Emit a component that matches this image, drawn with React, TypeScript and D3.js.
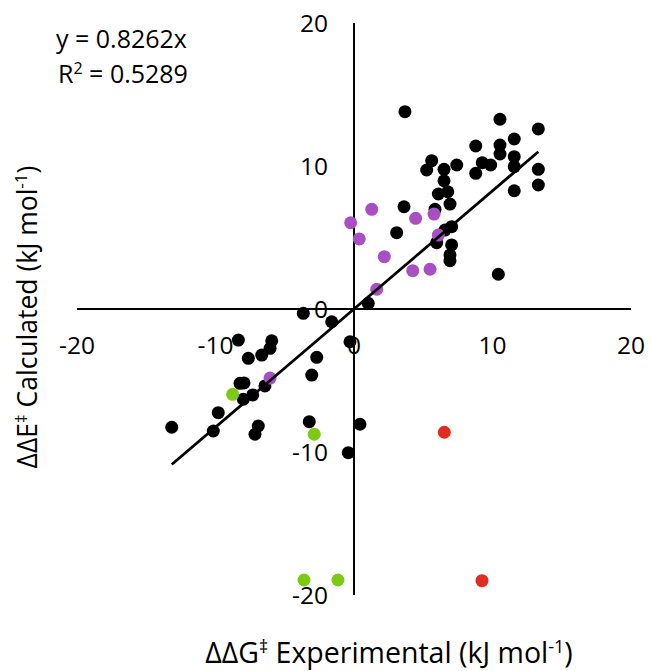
import * as d3 from "d3";
import { useEffect, useRef } from "react";

// black series (main set)
const blackX = [3.68, 10.54, 13.31, 11.57, 8.79, 10.54, 10.54, 11.57, 5.61, 7.42, 9.26, 9.87, 5.25, 6.5, 8.79, 11.57, 13.31, 6.5, 13.31, 6.09, 6.77, 11.57, 6.93, 3.61, 5.85, 3.08, 7.05, 6.57, 5.97, 7.05, 6.93, 6.93, 10.42, 1.03,
  -3.66, -1.61, -8.35, -5.94, -6.06, -6.66, -7.63, -0.29, -2.69, -3.05, -8.23, -7.94, -6.43, -7.99, -7.31, -9.8, -13.16, -10.16, -6.91, -7.15, -3.23, 0.43, -0.41];
const blackY = [13.8, 13.27, 12.59, 11.89, 11.4, 11.47, 10.84, 10.65, 10.37, 10.07, 10.23, 10.07, 9.72, 9.77, 9.49, 9.95, 9.77, 8.97, 8.67, 8.04, 8.2, 8.27, 7.34, 7.15, 6.97, 5.34, 5.76, 5.52, 4.64, 4.48, 3.78, 3.38, 2.43, 0.4,
  -0.3, -0.89, -2.17, -2.22, -2.75, -3.22, -3.45, -2.29, -3.38, -4.62, -5.2, -5.17, -5.38, -6.31, -6.01, -7.25, -8.27, -8.53, -8.18, -8.76, -7.88, -8.06, -10.05];

const purpleX = [1.28, -0.24, 0.38, 4.45, 5.78, 6.09, 2.19, 4.24, 5.49, 1.64, -6.06];
const purpleY = [6.97, 6.03, 4.9, 6.34, 6.64, 5.17, 3.66, 2.68, 2.78, 1.38, -4.83];

const greenX = [-8.76, -2.87, -3.61, -1.16];
const greenY = [-5.97, -8.76, -18.95, -18.95];

const redX = [6.52, 9.24];
const redY = [-8.62, -19.0];

const ticks = [-20, -10, 0, 10, 20];
const slope = 0.8262;
const rSquared = "0.5289";

const FONT = "'Open Sans', sans-serif";

const ChartDraw = () => {
  const chartRef = useRef(null);
  const width = 651;
  const height = 671;

  useEffect(() => {
    const svg = d3.select(chartRef.current);
    svg.selectAll("*").remove();

    const x = d3.scaleLinear().domain([-20, 20]).range([77, 631]);
    const y = d3.scaleLinear().domain([-20, 20]).range([595, 23]);

    // axes crossing at zero
    svg.append("line")
      .attr("x1", x(-20)).attr("x2", x(20))
      .attr("y1", y(0)).attr("y2", y(0))
      .attr("stroke", "#000").attr("stroke-width", 2);
    svg.append("line")
      .attr("x1", x(0)).attr("x2", x(0))
      .attr("y1", y(-20)).attr("y2", y(20))
      .attr("stroke", "#000").attr("stroke-width", 2);

    svg.selectAll(".xt")
      .data(ticks)
      .enter()
      .append("text")
      .attr("class", "xt")
      .attr("x", d => x(d))
      .attr("y", y(0) + 45)
      .attr("text-anchor", "middle")
      .style("font-family", FONT)
      .style("font-size", "24.5px")
      .text(d => d);

    svg.selectAll(".yt")
      .data(ticks)
      .enter()
      .append("text")
      .attr("class", "yt")
      .attr("x", x(0) - 26)
      .attr("y", d => y(d))
      .attr("dy", "0.36em")
      .attr("text-anchor", "end")
      .style("font-family", FONT)
      .style("font-size", "24.5px")
      .text(d => d);

    const series = [
      { xs: blackX, ys: blackY, color: "#000000" },
      { xs: purpleX, ys: purpleY, color: "#a84fc4" },
      { xs: greenX, ys: greenY, color: "#7ec914" },
      { xs: redX, ys: redY, color: "#e12c1f" },
    ];
    series.forEach(s => {
      svg.append("g")
        .selectAll("circle")
        .data(s.xs.map((v, i) => [v, s.ys[i]]))
        .enter()
        .append("circle")
        .attr("cx", d => x(d[0]))
        .attr("cy", d => y(d[1]))
        .attr("r", 6.5)
        .style("fill", s.color);
    });

    // linear trend through origin over the black data range
    const [xmin, xmax] = d3.extent(blackX);
    svg.append("line")
      .attr("x1", x(xmin)).attr("y1", y(slope * xmin))
      .attr("x2", x(xmax)).attr("y2", y(slope * xmax))
      .attr("stroke", "#000").attr("stroke-width", 2.75);

    // equation
    svg.append("text")
      .attr("x", 56).attr("y", 48)
      .style("font-family", FONT).style("font-size", "25px")
      .text(`y = ${slope}x`);
    const r2 = svg.append("text")
      .attr("x", 58).attr("y", 83)
      .style("font-family", FONT).style("font-size", "25px");
    r2.append("tspan").text("R");
    r2.append("tspan").attr("dy", -9).style("font-size", "16px").text("2");
    r2.append("tspan").attr("dy", 9).text(` = ${rSquared}`);

    // x title
    const xt = svg.append("text")
      .attr("x", 389).attr("y", 663)
      .attr("text-anchor", "middle")
      .style("font-family", FONT).style("font-size", "28.5px");
    xt.append("tspan").text("ΔΔG");
    xt.append("tspan").attr("dy", -10).style("font-size", "18px").text("‡");
    xt.append("tspan").attr("dy", 10).text(" Experimental (kJ mol");
    xt.append("tspan").attr("dy", -10).style("font-size", "18px").text("-1");
    xt.append("tspan").attr("dy", 10).text(")");

    // y title
    const yt = svg.append("text")
      .attr("transform", "translate(37, 317) rotate(-90)")
      .attr("text-anchor", "middle")
      .style("font-family", FONT).style("font-size", "26.5px");
    yt.append("tspan").text("ΔΔE");
    yt.append("tspan").attr("dy", -10).style("font-size", "17px").text("‡");
    yt.append("tspan").attr("dy", 10).text(" Calculated (kJ mol");
    yt.append("tspan").attr("dy", -10).style("font-size", "17px").text("-1");
    yt.append("tspan").attr("dy", 10).text(")");
  }, []);

  return (
    <svg ref={chartRef} width={width} height={height}
      style={{ position: "absolute", left: 0, top: 0, background: "#fff" }}></svg>
  );
};

export default function App() {
  return <ChartDraw />;
}
